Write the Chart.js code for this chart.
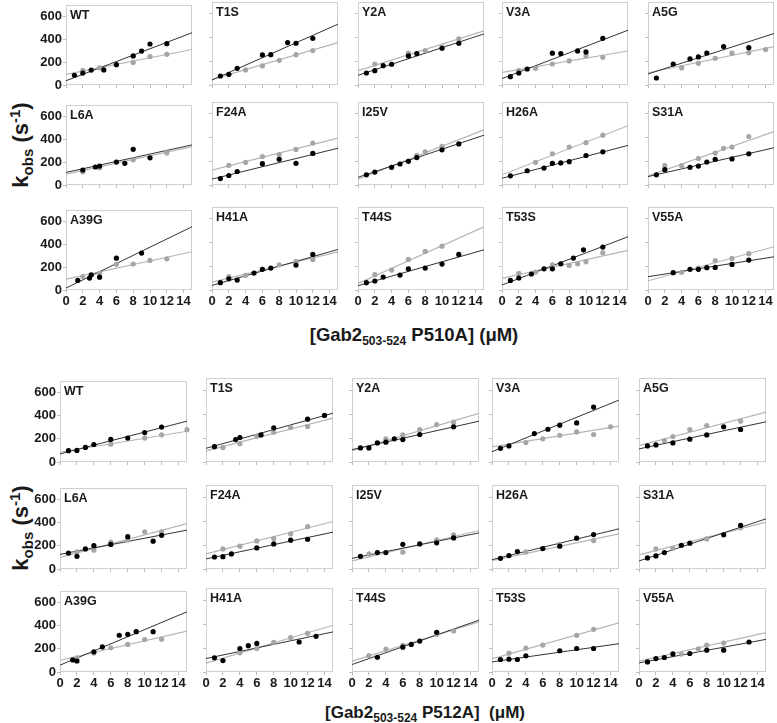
<!DOCTYPE html>
<html>
<head>
<meta charset="utf-8">
<script src="https://cdn.jsdelivr.net/npm/chart.js@4.4.1/dist/chart.umd.min.js"></script>
<style>
body { margin: 0; background: #fff; width: 777px; height: 723px; position: relative; overflow: hidden;
       font-family: 'Liberation Sans', Arial, sans-serif; color: #1a1a1a; }
canvas { position: absolute; }
.yt { position: absolute; font-weight: bold; font-size: 22px; white-space: nowrap; transform: translate(-50%, -50%) rotate(-90deg); }
.xt { position: absolute; font-weight: bold; font-size: 17px; white-space: nowrap; transform: translate(-50%, -50%); }
.yt sub, .yt sup { font-size: 15px; }
.xt sub { font-size: 12px; }
</style>
</head>
<body>
<div class="yt" style="left:21px;top:145px">k<sub>obs</sub> (s<sup>-1</sup>)</div>
<div class="yt" style="left:21px;top:528px">k<sub>obs</sub> (s<sup>-1</sup>)</div>
<div class="xt" style="left:414px;top:336px;font-size:18.5px">[Gab2<sub>503-524</sub> P510A] (&mu;M)</div>
<div class="xt" style="left:425px;top:714px">[Gab2<sub>503-524</sub> P512A]&nbsp; (&mu;M)</div>
<script>
const mutants = ['WT', 'T1S', 'Y2A', 'V3A', 'A5G', 'L6A', 'F24A', 'I25V', 'H26A', 'S31A', 'A39G', 'H41A', 'T44S', 'T53S', 'V55A'];
const xTicks = [0, 2, 4, 6, 8, 10, 12, 14];
const yTicks = [0, 200, 400, 600];
const fitX = [0, 15];

// P510A — [conc, kobs] pairs, black = one series, gray = the other
const p510Black = [
    [[1,85],[2,104],[3,130],[4.5,132],[6,177],[8,254],[9,296],[10,358],[12,361]],
    [[1,76],[2,90],[3,141],[6,254],[7,256],[9,358],[10,352],[12,394]],
    [[1,101],[2,121],[3,163],[4,175],[6,245],[7,265],[10,310],[12,352]],
    [[1,70],[2,101],[3,135],[6,268],[7,265],[9,287],[10,279],[12,394]],
    [[1,59],[3,177],[5,220],[6,237],[7,270],[9,324],[12,315]],
    [[2,131],[3.5,157],[4,166],[6,200],[7,189],[8,311],[10,237]],
    [[1,54],[2,80],[3,114],[6,180],[8,217],[10,183],[12,266]],
    [[1,86],[2,109],[4,149],[5,177],[6,200],[7,231],[10,297],[12,346]],
    [[1,77],[3,120],[5,143],[6,183],[7,186],[8,197],[10,249],[12,280]],
    [[1,86],[2,129],[5,149],[6,160],[7,194],[8,217],[10,220],[12,263]],
    [[1.4,84],[2.8,104],[3,132],[4,112],[6,278],[9,322]],
    [[1,62],[2,95],[3,84],[5,143],[6,174],[7,185],[10,210],[12,300]],
    [[1,62],[2,76],[3,109],[5,126],[6,179],[8,185],[10,219],[12,300]],
    [[1,81],[2,101],[3.5,135],[5,179],[6,179],[7,221],[8.5,269],[9.7,339],[12,362]],
    [[3,146],[5,174],[6,174],[7,188],[8,190],[10,216],[12,252]]
];
const p510Gray = [
    [[2,127],[4,150],[8,197],[10,248],[12,268]],
    [[2,90],[4,127],[6,161],[8,208],[10,256],[12,290]],
    [[2,177],[6,268],[8,290],[10,320],[12,389]],
    [[2,121],[4,141],[6,177],[8,203],[10,245],[12,234]],
    [[4,144],[6,183],[8,225],[10,268],[12,273],[14,299]],
    [[2,115],[4,150],[8,220],[12,280]],
    [[2,166],[4,191],[6,240],[8,257],[10,300],[12,354]],
    [[7,251],[8,280],[10,326]],
    [[4,191],[6,263],[8,320],[10,357],[12,420]],
    [[2,163],[4,163],[6,223],[8,269],[9,309],[10,320],[12,409]],
    [[2,118],[4,146],[6,224],[8,227],[10,258],[12,272]],
    [[2,112],[4,123],[8,213],[10,241],[12,258]],
    [[2,129],[4,168],[6,258],[8,325],[10,370]],
    [[2,140],[4,151],[6,213],[8,207],[9,221],[10,238],[12,314]],
    [[4,149],[6,185],[8,247],[10,266],[12,306]]
];
// fitted lines: kobs at conc 0 and 15
const p510BlackFit = [[37,456],[42,513],[82,431],[54,462],[93,434],[110,350],[50,310],[65,420],[57,334],[71,314],[17,552],[39,342],[36,339],[42,449],[112,280]];
const p510GrayFit = [[93,310],[48,358],[121,456],[107,287],[103,324],[95,335],[125,395],[50,465],[86,500],[77,451],[95,334],[67,322],[56,533],[98,334],[78,365]];

// P512A
const p512Black = [
    [[1,98],[2,100],[3,126],[4,151],[6,195],[8,206],[10,254],[12,301]],
    [[1,128],[3.5,187],[4,204],[6.5,226],[8,285],[12,357],[14,388]],
    [[1,117],[2,117],[3,159],[4,165],[5,193],[6,187],[8,229],[12,293]],
    [[1,114],[2,134],[5,237],[6.6,273],[8,307],[10,326],[12,458]],
    [[1,134],[2,142],[4,159],[6,190],[8,226],[10,293],[12,271]],
    [[1,137],[2,109],[3,173],[4,201],[6,212],[8,279],[11,240],[12,290]],
    [[1,100],[2,103],[3,126],[6,176],[8,209],[10,240],[12,248]],
    [[1,106],[3,137],[4,137],[6,206],[8,209],[10,218],[12,259]],
    [[1,89],[2,112],[3,145],[6,170],[8,190],[10,257],[12,287]],
    [[1,92],[2,109],[3,137],[5,198],[6,215],[10,285],[12,363]],
    [[1.5,104],[2,95],[4,174],[5,216],[7,317],[8,325],[9,348],[11,348]],
    [[1,118],[2,95],[4,196],[5,219],[6,238],[11,250],[13,297]],
    [[3,123],[6,207],[7,230],[8,258],[10,331]],
    [[1,104],[2,107],[3,104],[4,135],[8,177],[10,196],[12,196]],
    [[1,84],[2,112],[3,121],[4,151],[6,154],[8,182],[10,182],[13,250]]
];
const p512Gray = [
    [[6,153],[10,206],[12,234],[15,279]],
    [[2,120],[4,153],[6,215],[8,248],[10,287],[12,296]],
    [[4,193],[6,226],[8,271],[10,312],[12,332]],
    [[4,162],[6,193],[8,223],[10,251],[12,229],[14,293]],
    [[3,179],[4,212],[6,271],[8,304],[12,340]],
    [[2,148],[4,162],[6,232],[8,251],[10,321],[12,321]],
    [[2,167],[4,190],[6,234],[8,254],[10,293],[12,354]],
    [[2,126],[6,140],[10,243],[12,285]],
    [[4,142],[8,206],[12,237]],
    [[2,167],[4,173],[8,251],[12,343]],
    [[2,123],[4,163],[6,208],[8,238],[10,280],[12,283]],
    [[4,160],[6,196],[8,247],[10,286],[12,322]],
    [[2,137],[4,191],[6,222],[10,314],[12,342]],
    [[2,157],[4,199],[6,224],[10,306],[12,356]],
    [[5,149],[7,193],[8,224],[10,241]]
];
const p512BlackFit = [[70,352],[114,407],[103,340],[86,516],[109,335],[126,335],[84,307],[89,301],[78,335],[67,418],[59,519],[112,334],[62,432],[84,236],[76,272]];
const p512GrayFit = [[84,265],[92,365],[95,405],[126,299],[137,416],[100,391],[126,396],[67,321],[70,293],[117,391],[101,353],[73,390],[90,418],[109,409],[90,328]];

// ── layout ────────────────────────────────────────────────────────
const PAD_L = 48, PAD_R = 6, PAD_T = 6, PAD_B = 24;
const font = { family: "'Liberation Sans', Arial, sans-serif", size: 13, weight: 'bold' };

const framePlugin = {
    id: 'frame',
    beforeDatasetsDraw(chart) {
        const { ctx, chartArea: a } = chart;
        ctx.save();
        ctx.strokeStyle = '#cfcfcf';
        ctx.lineWidth = 1;
        ctx.strokeRect(Math.round(a.left) + 0.5, Math.round(a.top) + 0.5, Math.round(a.width) - 1, Math.round(a.height) - 1);
        ctx.restore();
    }
};

const tagPlugin = {
    id: 'tag',
    afterDraw(chart, args, opts) {
        const { ctx, chartArea: a } = chart;
        ctx.save();
        ctx.font = "bold 12.5px 'Liberation Sans', Arial, sans-serif";
        ctx.fillStyle = '#1a1a1a';
        ctx.textBaseline = 'top';
        ctx.fillText(opts.text, a.left + 4, a.top + 4);
        ctx.restore();
    }
};

function makePanel(i, left, top, w, h, black, gray, bFit, gFit, showX, showY) {
    const c = document.createElement('canvas');
    c.width = PAD_L + w + PAD_R;
    c.height = PAD_T + h + PAD_B;
    c.style.left = (left - PAD_L) + 'px';
    c.style.top = (top - PAD_T) + 'px';
    document.body.appendChild(c);

    const pts = (a) => a.map(p => ({ x: p[0], y: p[1] }));
    const fit = (f) => fitX.map((x, k) => ({ x, y: f[k] }));

    new Chart(c, {
        type: 'scatter',
        data: {
            datasets: [
                { data: pts(black), backgroundColor: '#000', pointRadius: 2.6, borderWidth: 0, clip: 4 },
                { data: pts(gray), backgroundColor: '#a6a6a6', pointRadius: 2.6, borderWidth: 0, clip: 4 },
                { data: fit(bFit), showLine: true, borderColor: '#333', borderWidth: 1, pointRadius: 0 },
                { data: fit(gFit), showLine: true, borderColor: '#b5b5b5', borderWidth: 1.2, pointRadius: 0 },
            ]
        },
        options: {
            responsive: false,
            animation: false,
            devicePixelRatio: 1,
            events: [],
            layout: { padding: { left: 0, top: PAD_T, right: PAD_R, bottom: 0 } },
            plugins: { legend: { display: false }, tooltip: { enabled: false }, tag: { text: mutants[i] } },
            scales: {
                x: {
                    type: 'linear', min: 0, max: 15,
                    afterBuildTicks: (s) => { s.ticks = xTicks.map(v => ({ value: v })); },
                    afterFit: (s) => { s.height = PAD_B; },
                    ticks: { display: showX, font, color: '#1a1a1a', padding: 1, maxRotation: 0, autoSkip: false },
                    grid: { drawOnChartArea: false, tickLength: 3, color: '#bdbdbd' },
                    border: { display: false }
                },
                y: {
                    type: 'linear', min: 0, max: 700,
                    afterBuildTicks: (s) => { s.ticks = yTicks.map(v => ({ value: v })); },
                    afterFit: (s) => { s.width = PAD_L; },
                    ticks: { display: showY, font, color: '#1a1a1a', padding: 1 },
                    grid: { drawOnChartArea: false, tickLength: 3, color: '#bdbdbd' },
                    border: { display: false }
                }
            }
        },
        plugins: [framePlugin, tagPlugin]
    });
}

// ── P510A block ───────────────────────────────────────────────────
const colsA = [66, 212, 358, 502, 648], rowsA = [2, 102, 207];
mutants.forEach((m, i) => {
    const r = Math.floor(i / 5), k = i % 5;
    makePanel(i, colsA[k], rowsA[r], 126, 83, p510Black[i], p510Gray[i], p510BlackFit[i], p510GrayFit[i], r === 2, k === 0);
});

// ── P512A block ───────────────────────────────────────────────────
const colsB = [60, 206, 352, 492, 639], rowsB = [378, 485, 588];
mutants.forEach((m, i) => {
    const r = Math.floor(i / 5), k = i % 5;
    makePanel(i, colsB[k], rowsB[r], 127, 84, p512Black[i], p512Gray[i], p512BlackFit[i], p512GrayFit[i], r === 2, k === 0);
});
</script>
</body>
</html>
